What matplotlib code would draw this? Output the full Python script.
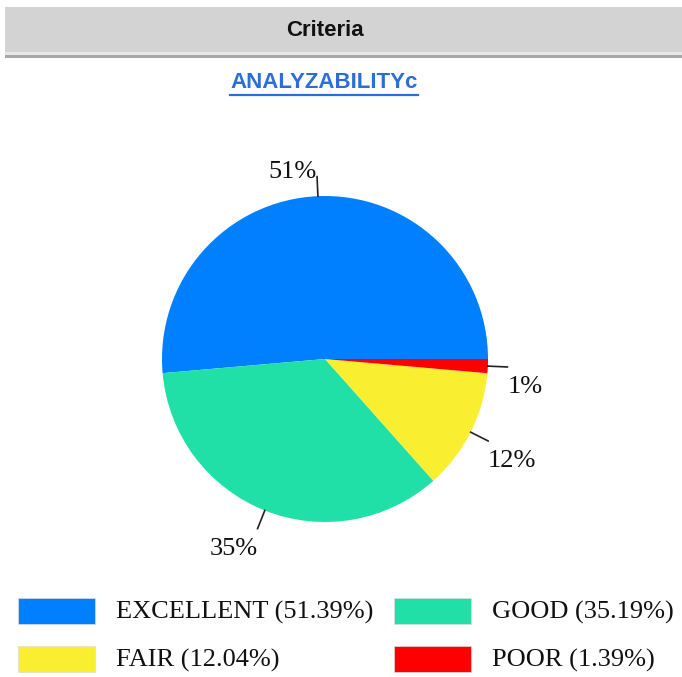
import numpy as np
import matplotlib
matplotlib.use("Agg")
import matplotlib.pyplot as plt
from matplotlib.patches import Rectangle

W, H = 682, 677

categories = ["EXCELLENT", "GOOD", "FAIR", "POOR"]
shares = [51.39, 35.19, 12.04, 1.39]
colors = ["#0080ff", "#20e0a8", "#f9ee2f", "#ff0000"]
header = "Criteria"
title = "ANALYZABILITYc"


def fx(x):
    return x / W


def fy(y):
    return 1 - y / H


fig = plt.figure(figsize=(W / 100, H / 100), dpi=100)

# header bar
fig.patches.append(Rectangle((fx(5), fy(52)), fx(W - 5), 45 / H,
                             transform=fig.transFigure, color="#d3d3d3", lw=0))
fig.patches.append(Rectangle((fx(5), fy(54.5)), fx(W - 5), 2.5 / H,
                             transform=fig.transFigure, color="#e8e8e8", lw=0))
fig.patches.append(Rectangle((fx(5), fy(57.5)), fx(W - 5), 2.5 / H,
                             transform=fig.transFigure, color="#a8a8a8", lw=0))
fig.text(fx(325), fy(30), header, ha="center", va="center",
         fontsize=16, fontweight="bold", family="Liberation Sans", color="#111111")

t = fig.text(fx(324), fy(83), title, ha="center", va="center",
             fontsize=16, fontweight="bold", family="Liberation Sans", color="#2a6fd6")
fig.canvas.draw()
bb = t.get_window_extent()
fig.add_artist(plt.Line2D([bb.x0 / W, bb.x1 / W], [fy(95), fy(95)],
                          transform=fig.transFigure, color="#2a6fd6", lw=1.6))

# pie
cx, cy, r = 325, 359, 163
ax = fig.add_axes([fx(cx - r), fy(cy + r), 2 * r / W, 2 * r / H])
wedges, _ = ax.pie(shares, colors=colors, startangle=0, counterclock=True,
                   radius=1, wedgeprops=dict(linewidth=0))
ax.set_xlim(-1, 1)
ax.set_ylim(-1, 1)
ax.axis("off")

px = 1 / r
for w, v in zip(wedges, shares):
    th = np.deg2rad((w.theta1 + w.theta2) / 2)
    x0, y0 = np.cos(th), np.sin(th)
    x1, y1 = 1.12 * x0, 1.12 * y0
    ax.plot([x0, x1], [y0, y1], color="#222222", lw=1.2, clip_on=False)
    ha = "left" if x0 > 0 else "right"
    if y0 > 0.2:
        va, dy = "baseline", -1 * px
    else:
        va, dy = "top", -9 * px
    ax.text(x1, y1 + dy, "{:.0f}%".format(v), ha=ha, va=va, fontsize=19,
            family="Liberation Serif", color="#111111", clip_on=False)

# legend
pos = [(18, 598), (394, 598), (18, 646), (394, 646)]
for (lx, ly), c, name, v in zip(pos, colors, categories, shares):
    fig.patches.append(Rectangle((fx(lx), fy(ly + 26)), 77 / W, 26 / H,
                                 transform=fig.transFigure, facecolor=c,
                                 edgecolor="#dddddd", lw=0.5))
    fig.text(fx(lx + 98), fy(ly + 14), "{} ({:.2f}%)".format(name, v),
             ha="left", va="center", fontsize=19, family="Liberation Serif",
             color="#111111")

fig.savefig("out.png", dpi=100)
